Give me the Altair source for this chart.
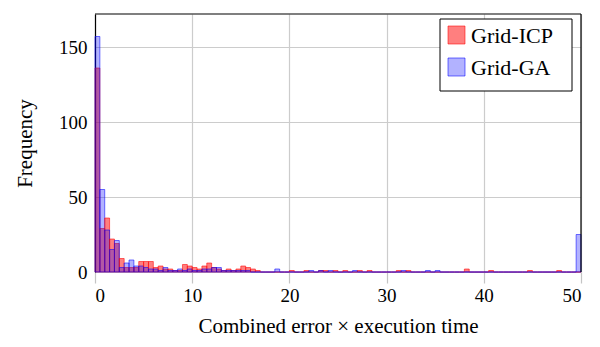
import altair as alt
import pandas as pd

# 100 bins of width 0.5 on [0, 50]
bin_width = 0.5

grid_icp = [136, 29, 36, 22, 19, 9, 3, 3, 3, 7,
            7, 7, 3, 4, 2, 2, 1, 1, 5, 4,
            3, 2, 4, 6, 3, 2, 1, 2, 1, 2,
            4, 3, 2, 1, 0, 0, 0, 0, 0, 0,
            1, 0, 0, 1, 0, 0, 1, 1, 0, 1,
            0, 1, 0, 0, 1, 0, 1, 0, 0, 0,
            0, 0, 1, 0, 1, 0, 0, 0, 0, 0,
            0, 0, 0, 0, 0, 0, 2, 0, 0, 0,
            0, 1, 0, 0, 0, 0, 0, 0, 0, 1,
            0, 0, 0, 0, 0, 1, 0, 0, 0, 0]

grid_ga = [157, 55, 28, 15, 21, 3, 6, 8, 4, 4,
           3, 2, 2, 1, 3, 1, 1, 2, 1, 2,
           1, 1, 2, 2, 3, 3, 1, 1, 1, 1,
           1, 1, 0, 0, 0, 0, 0, 2, 0, 0,
           0, 0, 0, 0, 1, 0, 1, 0, 1, 0,
           0, 0, 0, 1, 0, 0, 0, 0, 0, 0,
           0, 0, 0, 1, 0, 0, 0, 0, 1, 0,
           1, 0, 0, 0, 0, 0, 0, 0, 0, 0,
           0, 0, 0, 0, 0, 0, 0, 0, 0, 0,
           0, 0, 0, 0, 0, 0, 0, 0, 0, 25]

series_names = ["Grid-ICP", "Grid-GA"]
fill_colors = ["rgba(255,0,0,0.5)", "rgba(0,0,255,0.3)"]
stroke_colors = ["rgba(255,0,0,0.55)", "rgba(0,0,255,0.55)"]

x_ticks = [0, 10, 20, 30, 40, 50]
y_ticks = [0, 50, 100, 150]

rows = []
for name, counts in zip(series_names, [grid_icp, grid_ga]):
    for i, c in enumerate(counts):
        rows.append({"series": name, "start": i * bin_width,
                     "end": (i + 1) * bin_width, "count": c, "order": i})
df = pd.DataFrame(rows)

FONT = "Liberation Serif"
W, H = 486, 258

bars = alt.Chart(df).mark_bar(strokeWidth=1, opacity=1).encode(
    x=alt.X("start:Q",
            scale=alt.Scale(domain=[0, 50], nice=False, zero=False),
            axis=alt.Axis(values=x_ticks, title="Combined error × execution time",
                          grid=True, gridColor="#cccccc", gridWidth=1.2,
                          domain=False, ticks=True, tickSize=11,
                          tickColor="#c4c4c4", tickWidth=1.2,
                          labelPadding=3, labelFontSize=19, labelFont=FONT,
                          labelColor="#000", titleFont=FONT, titleFontSize=21,
                          titleFontWeight="normal", titleColor="#000",
                          titlePadding=10, format="d")),
    x2="end:Q",
    y=alt.Y("count:Q", stack=None,
            scale=alt.Scale(domain=[0, 172], nice=False, zero=False),
            axis=alt.Axis(values=y_ticks, title="Frequency",
                          grid=True, gridColor="#cccccc", gridWidth=1.2,
                          domain=True, domainColor="#000", domainWidth=1.2,
                          ticks=False, labelPadding=8, labelFontSize=19,
                          labelFont=FONT, labelColor="#000",
                          titleFont=FONT, titleFontSize=21,
                          titleFontWeight="normal", titleColor="#000",
                          titlePadding=23, format="d")),
    y2=alt.datum(0),
    color=alt.Color("series:N",
                    scale=alt.Scale(domain=series_names, range=fill_colors),
                    legend=None),
    stroke=alt.Stroke("series:N",
                      scale=alt.Scale(domain=series_names, range=stroke_colors),
                      legend=None),
    order=alt.Order("order:Q"),
)

one = alt.Data(values=[{"k": 1}])
top_rule = alt.Chart(one).mark_rule(color="#000", strokeWidth=1.2).encode(
    x=alt.value(0), x2=alt.value(W), y=alt.value(0))
right_rule = alt.Chart(one).mark_rule(color="#000", strokeWidth=1.2).encode(
    x=alt.value(W), y=alt.value(0), y2=alt.value(H))

# Legend (drawn as annotation, top-right inside the plot)
LX0, LX1, LY0, LY1 = 345, 477, 5, 77
legend_box = alt.Chart(one).mark_rect(fill="#ffffff", stroke="#000000",
                                      strokeWidth=1).encode(
    x=alt.value(LX0), x2=alt.value(LX1), y=alt.value(LY0), y2=alt.value(LY1))

legend_layers = [legend_box]
row_centers = [21, 53]
for name, fc, sc, yc in zip(series_names, fill_colors, stroke_colors, row_centers):
    sw = alt.Chart(one).mark_rect(fill=fc, stroke=sc, strokeWidth=1).encode(
        x=alt.value(353), x2=alt.value(370),
        y=alt.value(yc - 9), y2=alt.value(yc + 9))
    tx = alt.Chart(one).mark_text(align="left", baseline="middle", font=FONT,
                                  fontSize=22, color="#000").encode(
        x=alt.value(376), y=alt.value(yc + 1), text=alt.value(name))
    legend_layers += [sw, tx]

chart = alt.layer(bars, top_rule, right_rule, *legend_layers).properties(
    width=W, height=H,
    autosize=alt.AutoSizeParams(type="none"),
    padding={"left": 87, "top": 6, "right": 11, "bottom": 67},
).configure_view(stroke=None)

chart.save("out.html", embed_options={"renderer": "svg", "actions": False})
